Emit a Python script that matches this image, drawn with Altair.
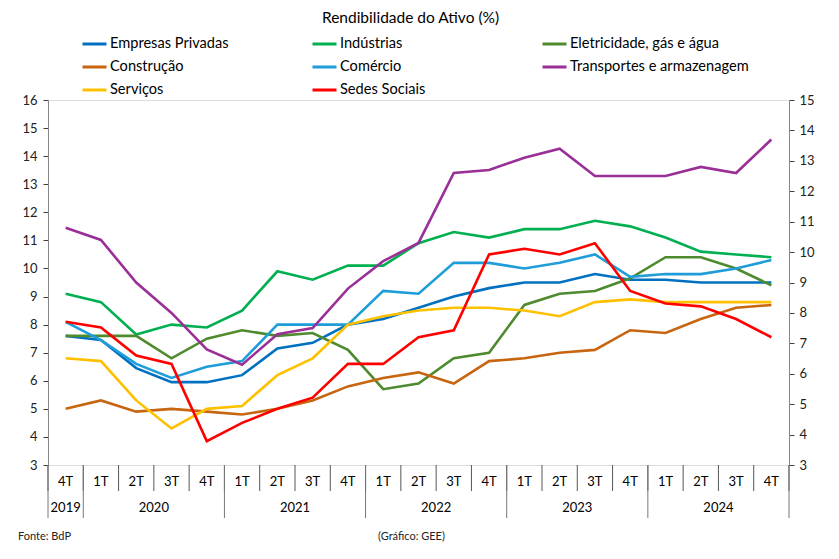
import altair as alt
import pandas as pd

# Quarter / year labels for the two-level category axis
quarters = ["4T"] + ["1T", "2T", "3T", "4T"] * 5
years = ["2019", "2020", "2021", "2022", "2023", "2024"]
year_len = [1, 4, 4, 4, 4, 4]

# Return on assets (%) by sector, 4T 2019 .. 4T 2024
empresas = [7.6, 7.45, 6.45, 5.95, 5.95, 6.2, 7.15, 7.35, 8.0, 8.2, 8.6, 9.0, 9.3, 9.5, 9.5, 9.8, 9.6, 9.6, 9.5, 9.5, 9.5]
industrias = [9.1, 8.8, 7.65, 8.0, 7.9, 8.5, 9.9, 9.6, 10.1, 10.1, 10.9, 11.3, 11.1, 11.4, 11.4, 11.7, 11.5, 11.1, 10.6, 10.5, 10.4]
eletricidade = [7.6, 7.6, 7.6, 6.8, 7.5, 7.8, 7.6, 7.7, 7.1, 5.7, 5.9, 6.8, 7.0, 8.7, 9.1, 9.2, 9.65, 10.4, 10.4, 10.0, 9.4]
construcao = [5.0, 5.3, 4.9, 5.0, 4.9, 4.8, 5.0, 5.3, 5.8, 6.1, 6.3, 5.9, 6.7, 6.8, 7.0, 7.1, 7.8, 7.7, 8.2, 8.6, 8.7]
comercio = [8.1, 7.45, 6.6, 6.1, 6.5, 6.7, 8.0, 8.0, 8.0, 9.2, 9.1, 10.2, 10.2, 10.0, 10.2, 10.5, 9.7, 9.8, 9.8, 10.0, 10.3]
servicos = [6.8, 6.7, 5.3, 4.3, 5.0, 5.1, 6.2, 6.8, 8.0, 8.3, 8.5, 8.6, 8.6, 8.5, 8.3, 8.8, 8.9, 8.8, 8.8, 8.8, 8.8]
sedes = [8.1, 7.9, 6.9, 6.6, 3.85, 4.5, 5.0, 5.4, 6.6, 6.6, 7.55, 7.8, 10.5, 10.7, 10.5, 10.9, 9.2, 8.75, 8.65, 8.2, 7.55]
# secondary (right) axis
transportes = [10.8, 10.4, 9.0, 8.0, 6.8, 6.3, 7.3, 7.5, 8.8, 9.7, 10.3, 12.6, 12.7, 13.1, 13.4, 12.5, 12.5, 12.5, 12.8, 12.6, 13.7]

names = ["Empresas Privadas", "Indústrias", "Eletricidade, gás e água",
         "Construção", "Comércio", "Transportes e armazenagem",
         "Serviços", "Sedes Sociais"]
colors = ["#0070C0", "#00B050", "#4E8A2E", "#C8650F", "#1F9DD9", "#9A2F98",
          "#FFC000", "#FF0000"]

left_series = {
    "Empresas Privadas": empresas,
    "Indústrias": industrias,
    "Eletricidade, gás e água": eletricidade,
    "Construção": construcao,
    "Comércio": comercio,
    "Serviços": servicos,
    "Sedes Sociais": sedes,
}

FONT = "Lato"

rows = []
for name, vals in left_series.items():
    for i, v in enumerate(vals):
        rows.append({"series": name, "pos": i + 0.5, "value": v})
df_left = pd.DataFrame(rows)
df_right = pd.DataFrame({"series": names[5], "pos": [i + 0.5 for i in range(len(transportes))],
                         "value": transportes})

n = len(quarters)
x_scale = alt.Scale(domain=[0, n], nice=False, zero=False)
color_scale = alt.Scale(domain=names, range=colors)

legend = alt.Legend(
    orient="none", legendX=33, legendY=-64, columns=3, direction="horizontal",
    gridAlign="all", columnPadding=22, rowPadding=7, title=None,
    symbolType="stroke", symbolSize=576, symbolStrokeWidth=3, clipHeight=16,
    labelFont=FONT, labelFontSize=14.6, labelColor="#000", labelOffset=2,
    labelLimit=400,
)

x_enc = alt.X("pos:Q", scale=x_scale,
              axis=alt.Axis(labels=False, ticks=False, grid=False, title=None,
                            domainColor="#000", domainWidth=1))

lines_left = alt.Chart(df_left).mark_line(strokeWidth=2.6).encode(
    x=x_enc,
    y=alt.Y("value:Q", scale=alt.Scale(domain=[3, 16], nice=False, zero=False),
            axis=alt.Axis(values=list(range(3, 17)), grid=False, title=None,
                          domainColor="#868686", tickColor="#404040", tickSize=5,
                          labelFont=FONT, labelFontSize=13, labelColor="#222",
                          labelPadding=6)),
    color=alt.Color("series:N", scale=color_scale, sort=names, legend=legend),
)

lines_right = alt.Chart(df_right).mark_line(strokeWidth=2.6).encode(
    x=alt.X("pos:Q", scale=x_scale, axis=None),
    y=alt.Y("value:Q", scale=alt.Scale(domain=[3, 15], nice=False, zero=False),
            axis=alt.Axis(orient="right", values=list(range(3, 16)), grid=False,
                          title=None, domainColor="#868686", tickColor="#404040",
                          tickSize=5, labelFont=FONT, labelFontSize=13,
                          labelColor="#222", labelPadding=5)),
    color=alt.Color("series:N", scale=color_scale, sort=names, legend=legend),
)

# Category axis: separators, quarter labels and year labels
bounds = pd.DataFrame({"b": list(range(n + 1))})
year_edges = [0]
for k in year_len:
    year_edges.append(year_edges[-1] + k)
bounds_year = pd.DataFrame({"b": year_edges})
year_df = pd.DataFrame({
    "year": years,
    "mid": [(year_edges[i] + year_edges[i + 1]) / 2 for i in range(len(years))],
})
q_df = pd.DataFrame({"q": quarters, "pos": [i + 0.5 for i in range(n)]})

q_sep = alt.Chart(bounds).mark_rule(color="#555", strokeWidth=1).encode(
    x=alt.X("b:Q", scale=x_scale, axis=None),
    y=alt.value(365), y2=alt.value(391))
y_sep = alt.Chart(bounds_year).mark_rule(color="#777", strokeWidth=1).encode(
    x=alt.X("b:Q", scale=x_scale, axis=None),
    y=alt.value(365), y2=alt.value(418))
q_txt = alt.Chart(q_df).mark_text(font=FONT, fontSize=13, color="#000",
                                  baseline="middle").encode(
    x=alt.X("pos:Q", scale=x_scale, axis=None), y=alt.value(382), text="q:N")
y_txt = alt.Chart(year_df).mark_text(font=FONT, fontSize=13, color="#000",
                                     baseline="middle").encode(
    x=alt.X("mid:Q", scale=x_scale, axis=None), y=alt.value(408), text="year:N")

notes = pd.DataFrame({"t": ["Fonte: BdP"]})
notes2 = pd.DataFrame({"t": ["(Gráfico: GEE)"]})
src = alt.Chart(notes).mark_text(font=FONT, fontSize=11, color="#222", align="left",
                                 baseline="middle").encode(
    x=alt.value(-30), y=alt.value(437), text="t:N")
credit = alt.Chart(notes2).mark_text(font=FONT, fontSize=11, color="#222", align="left",
                                     baseline="middle").encode(
    x=alt.value(330), y=alt.value(437), text="t:N")

chart = alt.layer(
    lines_left, lines_right, q_sep, y_sep, q_txt, y_txt, src, credit
).resolve_scale(y="independent").properties(
    width=741, height=365,
    autosize=alt.AutoSizeParams(type="none"),
    padding={"left": 48, "top": 100, "right": 50, "bottom": 94},
    title=alt.TitleParams("Rendibilidade do Ativo (%)", font=FONT, fontSize=15.5,
                          fontWeight="normal", color="#000", anchor="middle",
                          frame="group", offset=10, dx=-8),
).configure_view(stroke=None).configure(background="white")

chart.save("out.html", embed_options={"renderer": "svg", "actions": False})
